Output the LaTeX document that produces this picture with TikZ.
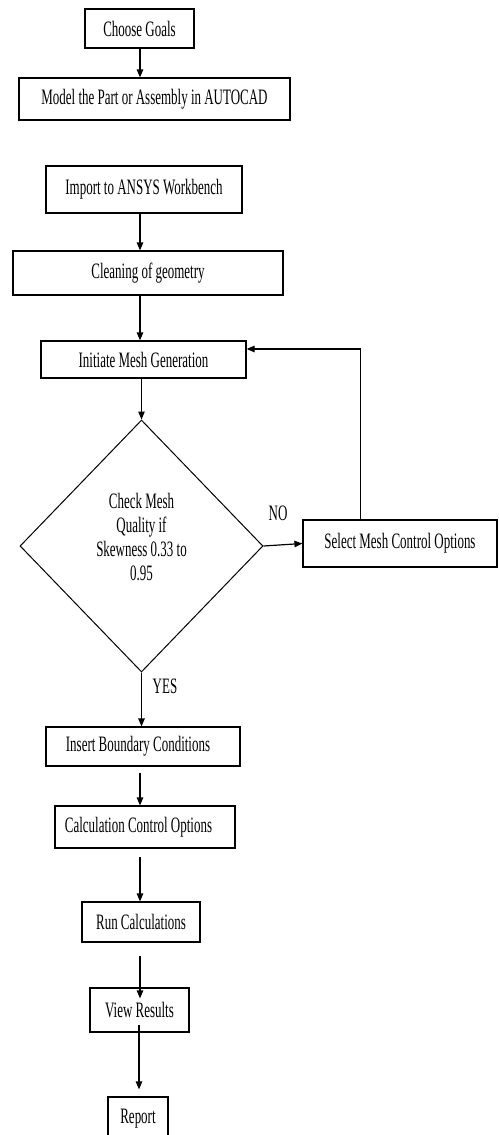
\documentclass[tikz,border=0pt]{standalone}
\usepackage{fontspec}
\setmainfont{Liberation Serif}[FakeStretch=0.59]
\usetikzlibrary{arrows.meta,shapes.geometric}
\begin{document}
\begin{tikzpicture}[x=1pt,y=-1pt,
  font=\fontsize{22}{24}\selectfont,
  box/.style={draw, line width=1.2pt, inner sep=0pt, align=center},
  arr/.style={line width=1.2pt, -{Triangle[length=8pt,width=6.5pt]}},
  lbl/.style={inner sep=0pt}]
\useasboundingbox (0,0) rectangle (498,1135);
\fill[white] (0,0) rectangle (498,1135);
\coordinate (axis) at (140,0);
\coordinate (loopx) at (360.5,0);

\node[box, minimum width=109pt, minimum height=39pt] (goals) at (139.5,28.5) {Choose Goals};
\node[box, minimum width=271pt, minimum height=42pt] (model) at (154.5,99) {Model the Part or Assembly in AUTOCAD};
\node[box, minimum width=196pt, minimum height=47pt] (import) at (144,189.5) {Import to ANSYS Workbench};
\node[box, minimum width=270pt, minimum height=44pt] (clean) at (148,273) {Cleaning of geometry};
\node[box, minimum width=205pt, minimum height=37pt] (init) at (143.5,359.5) {Initiate Mesh Generation};
\node[draw, line width=1pt, shape=diamond, inner sep=0pt, minimum width=243pt, minimum height=252pt] (dia) at (141.5,546) {};
\node[lbl, align=center] (dtext) at (141.5,537.5) {Check Mesh\\Quality if\\Skewness 0.33 to\\0.95};
\node[box, minimum width=194pt, minimum height=47pt] (select) at (400,543.5) {Select Mesh Control Options};
\node[box, minimum width=194pt, minimum height=39pt] (insert) at (143,746.5) {\hspace*{-10pt}Insert Boundary Conditions};
\node[box, minimum width=180pt, minimum height=42pt] (calc) at (145,827) {\hspace*{-13pt}Calculation Control Options};
\node[box, minimum width=118pt, minimum height=40pt] (run) at (141,922) {Run Calculations};
\node[box, minimum width=99pt, minimum height=44pt] (view) at (139.5,1010) {View Results};
\node[box, minimum width=60pt, minimum height=43pt] (report) at (138,1118.5) {Report};

\node[lbl] (no) at (278,513) {NO};
\node[lbl] (yes) at (165,686.5) {YES};

\draw[arr] (goals.south -| axis) -- (model.north -| axis);
\draw[arr] (import.south -| axis) -- (clean.north -| axis);
\draw[arr] (clean.south -| axis) -- (init.north -| axis);
\draw[arr] (init.south -| dia.north) -- (dia.north);
\draw[arr] (dia.east) -- (select.west);
\draw[arr] (select.north -| loopx) |- ([yshift=10.5pt]init.east);
\draw[arr] (dia.south) -- (insert.north -| dia.south);
\draw[arr, shorten <=6pt] (insert.south -| axis) -- (calc.north -| axis);
\draw[arr, shorten <=8pt] (calc.south -| axis) -- (run.north -| axis);
\draw[arr, shorten <=13pt, shorten >=-11pt] (run.south -| axis) -- (view.north -| axis);
\draw[arr, shorten <=-8pt, shorten >=7pt] ([xshift=-1pt]view.south -| axis) -- ([xshift=-1pt]report.north -| axis);
\end{tikzpicture}
\end{document}
